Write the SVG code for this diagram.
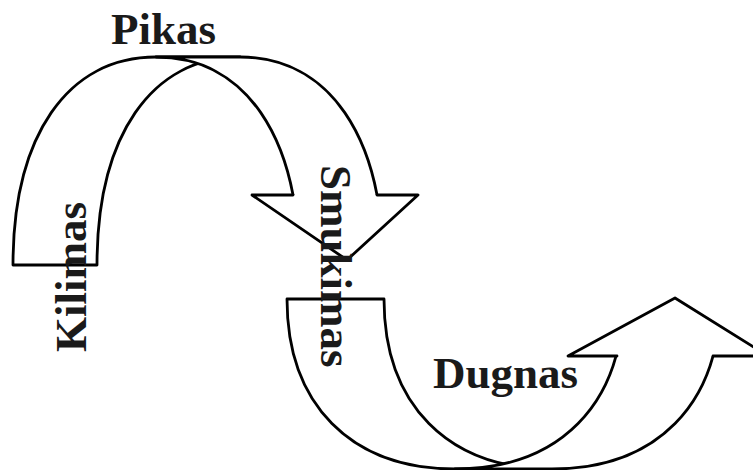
<svg xmlns="http://www.w3.org/2000/svg" width="753" height="470" viewBox="0 0 753 470">
<style>
.band{fill:#fff;stroke:#000;stroke-width:2.8;stroke-linejoin:round;stroke-linecap:round}
.lbl{font-family:"Liberation Serif","Times New Roman",serif;font-weight:bold;font-size:45px;fill:#1a1a1a}
</style>
<defs>
<clipPath id="clipTop"><rect x="0" y="0" width="753" height="195"/></clipPath>
<clipPath id="clipBot"><rect x="0" y="356" width="753" height="114"/></clipPath>
</defs>
<rect width="753" height="470" fill="#fff"/>
<g id="arrow-top">
<path class="band" d="M13,265 C13,136 67.3,57 156,57 L240,57 C151.3,57 97,136 97,265 Z"/>
<path class="band" clip-path="url(#clipTop)" d="M156,57 L240,57 C328.7,57 383,136 383,265 L299,265 C299,136 244.7,57 156,57 Z"/>
<path class="band" d="M293,195 L252,195 L347,260 L418,195 L377,195"/>
</g>
<g id="arrow-bottom">
<path class="band" d="M287,299 C287,404.4 350.8,469 455,469 L552,469 C447.8,469 384,404.4 384,299 Z"/>
<path class="band" clip-path="url(#clipBot)" d="M455,469 L552,469 C656.2,469 720,404.4 720,299 L623,299 C623,404.4 559.2,469 455,469 Z"/>
<path class="band" d="M617,356 L568,356 L675,298 L768,356 L713,356"/>
</g>
<g id="label-pikas"><text class="lbl" x="111" y="44">Pikas</text></g>
<g id="label-kilimas"><text class="lbl" transform="translate(86,352) rotate(-90)">Kilimas</text></g>
<g id="label-smukimas"><text class="lbl" transform="translate(321,165) rotate(90)">Smukimas</text></g>
<g id="label-dugnas"><text class="lbl" x="433" y="388">Dugnas</text></g>
</svg>
